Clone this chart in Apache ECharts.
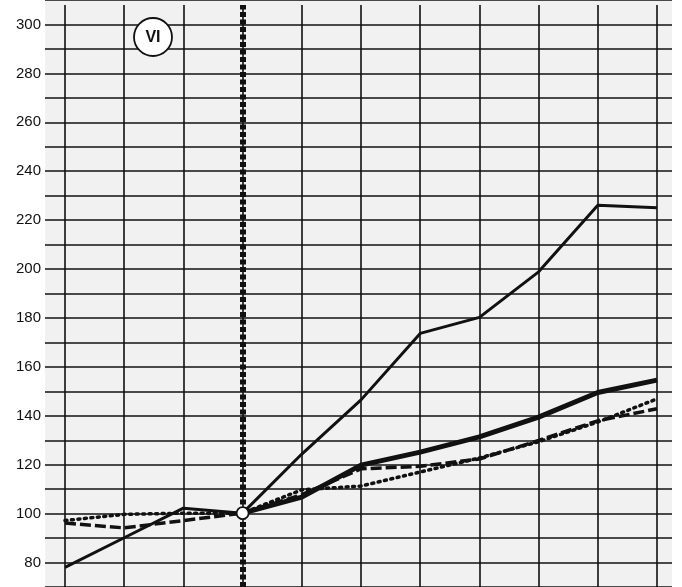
<!DOCTYPE html>
<html>
<head>
<meta charset="utf-8">
<script src="https://cdn.jsdelivr.net/npm/echarts@6/dist/echarts.min.js"></script>
<style>html,body{margin:0;padding:0;background:#fff}#c{width:682px;height:587px}</style>
</head>
<body>
<div id="c"></div>
<script>
const categories = ['0','1','2','3','4','5','6','7','8','9','10'];
const thinSolid  = [78, 90, 102, 100, 124, 146, 173, 179.5, 198, 225, 224];
const thickSolid = [null, null, null, 100, 106.5, 119.5, 124.8, 131, 139, 149, 154];
const dashed     = [96, 94, 97, 100, 107.5, 118, 119, 122, 129.5, 137.5, 142.4];
const dotted     = [97, 99.5, 100, 100, 109.5, 111, 116.7, 122.4, 129, 137, 146.4];
const baseMarker = [null, null, null, 100, null, null, null, null, null, null, null];
const yTicks = [80, 100, 120, 140, 160, 180, 200, 220, 240, 260, 280, 300];
const panelLabel = 'VI';

const chart = echarts.init(document.getElementById('c'));
const yMinA = 70, yMaxA = 310;
const topA = -4, bottomA = -5;
const pxPerUnit = (587 - topA - bottomA) / (yMaxA - yMinA);
const yMaxB = yMaxA - (5 - topA) / pxPerUnit;

chart.setOption({
  backgroundColor: '#ffffff',
  animation: false,
  grid: [
    {left: 45, right: 10, top: topA, bottom: bottomA, show: true, backgroundColor: '#f1f1f1', borderWidth: 0},
    {left: 65, right: 25, top: 5, bottom: bottomA}
  ],
  xAxis: [
    {gridIndex: 0, type: 'value', min: 0, max: 1, show: false},
    {gridIndex: 1, type: 'category', data: categories, boundaryGap: false,
     axisLine: {show: false}, axisTick: {show: false}, axisLabel: {show: false},
     splitLine: {show: true, lineStyle: {color: '#111', width: 1.6}}}
  ],
  yAxis: [
    {gridIndex: 0, type: 'value', min: yMinA, max: yMaxA, interval: 10,
     axisLine: {show: false}, axisTick: {show: false},
     axisLabel: {margin: 4, color: '#111', fontSize: 15, fontFamily: 'Liberation Sans, Arial, sans-serif',
       formatter: v => yTicks.includes(v) ? String(v) : ''},
     splitLine: {show: true, lineStyle: {color: '#111', width: 1.6}}},
    {gridIndex: 1, type: 'value', min: yMinA, max: yMaxB, show: false, splitLine: {show: false}}
  ],
  graphic: [
    {type: 'circle', shape: {cx: 153, cy: 37, r: 19}, style: {fill: '#fff', stroke: '#111', lineWidth: 1.8}, z: 10},
    {type: 'text', x: 153, y: 38, style: {text: panelLabel, fontSize: 16, fontWeight: 'bold', fill: '#111',
      align: 'center', verticalAlign: 'middle', fontFamily: 'Liberation Sans, Arial, sans-serif'}, z: 11}
  ],
  series: [
    {type: 'line', xAxisIndex: 1, yAxisIndex: 1, data: dotted, symbol: 'none',
     lineStyle: {color: '#111', width: 3.5, type: [2, 4.5], cap: 'round'}, z: 3,
     markLine: {silent: true, symbol: 'none', label: {show: false},
       lineStyle: {color: '#111', width: 6, type: [5, 2.5]},
       data: [{xAxis: 3}]}},
    {type: 'line', xAxisIndex: 1, yAxisIndex: 1, data: dashed, symbol: 'none',
     lineStyle: {color: '#111', width: 3.5, type: [11, 4]}, z: 3},
    {type: 'line', xAxisIndex: 1, yAxisIndex: 1, data: thickSolid, symbol: 'none',
     lineStyle: {color: '#111', width: 5}, z: 4},
    {type: 'line', xAxisIndex: 1, yAxisIndex: 1, data: thinSolid, symbol: 'none',
     lineStyle: {color: '#111', width: 3}, z: 4},
    {type: 'scatter', xAxisIndex: 1, yAxisIndex: 1, data: baseMarker, symbol: 'circle', symbolSize: 12,
     itemStyle: {color: '#ffffff', opacity: 1, borderColor: '#111', borderWidth: 1.8}, z: 6}
  ]
});
</script>
</body>
</html>
